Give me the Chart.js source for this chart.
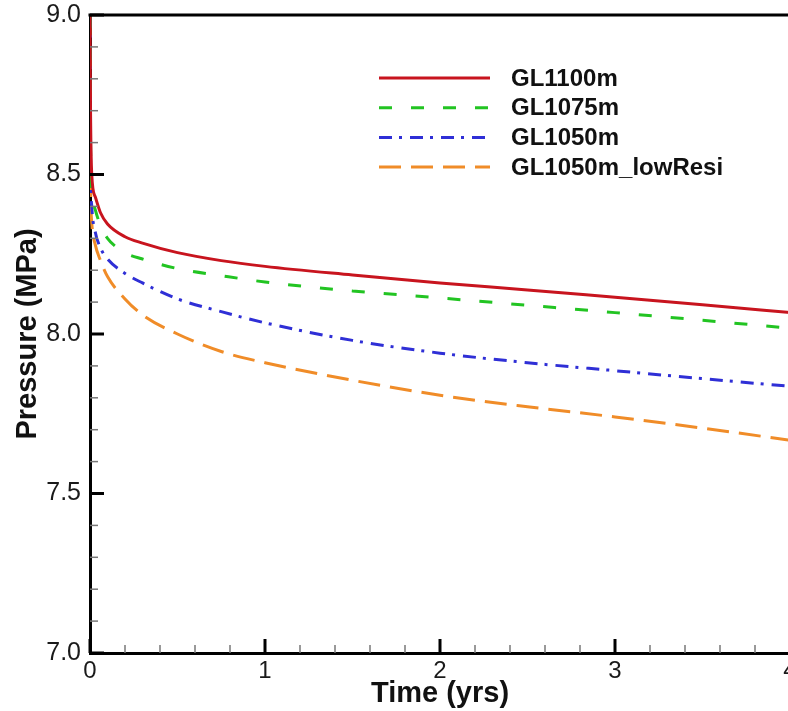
<!DOCTYPE html>
<html>
<head>
<meta charset="utf-8">
<script src="https://cdn.jsdelivr.net/npm/chart.js@4.4.1/dist/chart.umd.min.js"></script>
<style>
  html, body { margin: 0; padding: 0; background: #fff; overflow: hidden; }
  #wrap { width: 788px; height: 711px; overflow: hidden; }
</style>
</head>
<body>
<div id="wrap"><canvas id="pressureChart" width="812" height="711"></canvas></div>
<script>
// time in years
var times = [0, 0.003, 0.01, 0.03, 0.06, 0.1, 0.2, 0.3, 0.5, 0.75, 1, 1.5, 2, 2.5, 3, 3.5, 4];

// pressure in MPa
var gl1100 = [9.0, 8.70, 8.50, 8.43, 8.38, 8.345, 8.305, 8.285, 8.255, 8.23, 8.212, 8.185, 8.160, 8.138, 8.115, 8.092, 8.067];
var gl1075 = [9.0, 8.60, 8.45, 8.39, 8.34, 8.300, 8.255, 8.235, 8.205, 8.183, 8.163, 8.135, 8.113, 8.090, 8.067, 8.043, 8.018];
var gl1050 = [9.0, 8.55, 8.40, 8.32, 8.27, 8.235, 8.190, 8.160, 8.110, 8.070, 8.035, 7.980, 7.940, 7.910, 7.885, 7.860, 7.836];
var gl1050Low = [9.0, 8.50, 8.35, 8.28, 8.23, 8.180, 8.110, 8.060, 8.000, 7.945, 7.910, 7.855, 7.808, 7.772, 7.740, 7.705, 7.667];

var seriesNames = ["GL1100m", "GL1075m", "GL1050m", "GL1050m_lowResi"];
var xTicks = [0, 1, 2, 3, 4];
var yTicks = [7.0, 7.5, 8.0, 8.5, 9.0];

function toPoints(ys) {
    return times.map((t, i) => ({ x: t, y: ys[i] }));
}

var styles = [
    { color: "#c8141e", dash: [] },
    { color: "#22c422", dash: [13, 19] },
    { color: "#2f2fd6", dash: [13, 7, 3, 8] },
    { color: "#f08c28", dash: [22, 10] }
];

var allSeries = [gl1100, gl1075, gl1050, gl1050Low];

var datasets = allSeries.map((ys, i) => ({
    label: seriesNames[i],
    data: toPoints(ys),
    borderColor: styles[i].color,
    borderDash: styles[i].dash,
    borderWidth: 3,
    pointRadius: 0,
    tension: 0.35,
    cubicInterpolationMode: "monotone",
    fill: false
}));

// inward ticks, box frame and legend
var framePlugin = {
    id: "frame",
    afterDraw: function (chart) {
        var ctx = chart.ctx;
        var area = chart.chartArea;
        var xs = chart.scales.x;
        var ys = chart.scales.y;
        ctx.save();
        ctx.strokeStyle = "#000";

        // minor / major ticks on x
        for (var v = 0; v <= 4.0001; v += 0.2) {
            var px = xs.getPixelForValue(v);
            var major = Math.abs(v - Math.round(v)) < 1e-6;
            ctx.lineWidth = major ? 3 : 1.5;
            ctx.strokeStyle = major ? "#000" : "#777";
            ctx.beginPath();
            ctx.moveTo(px, area.bottom);
            ctx.lineTo(px, area.bottom - (major ? 14 : 8));
            ctx.stroke();
        }
        // minor / major ticks on y
        for (var w = 7.0; w <= 9.0001; w += 0.1) {
            var py = ys.getPixelForValue(w);
            var majorY = Math.abs(w * 2 - Math.round(w * 2)) < 1e-6;
            ctx.lineWidth = majorY ? 3 : 1.5;
            ctx.strokeStyle = majorY ? "#000" : "#777";
            ctx.beginPath();
            ctx.moveTo(area.left, py);
            ctx.lineTo(area.left + (majorY ? 14 : 8), py);
            ctx.stroke();
        }

        // top and right frame
        ctx.strokeStyle = "#000";
        ctx.lineWidth = 3;
        ctx.beginPath();
        ctx.moveTo(area.left - 1.5, area.top);
        ctx.lineTo(area.right, area.top);
        ctx.lineTo(area.right, area.bottom);
        ctx.stroke();

        // legend
        var lx0 = 379, lx1 = 490, ly = 78, step = 29.7;
        chart.data.datasets.forEach(function (ds, i) {
            var y = ly + i * step;
            ctx.lineWidth = 3;
            ctx.strokeStyle = ds.borderColor;
            ctx.setLineDash(ds.borderDash);
            ctx.beginPath();
            ctx.moveTo(lx0, y);
            ctx.lineTo(lx1, y);
            ctx.stroke();
            ctx.setLineDash([]);
            ctx.fillStyle = "#111";
            ctx.font = "bold 24px 'Liberation Sans', Arial, sans-serif";
            ctx.textBaseline = "middle";
            ctx.textAlign = "left";
            ctx.fillText(ds.label, 511, y + 1);
        });
        ctx.restore();
    }
};

var ctx = document.getElementById("pressureChart").getContext("2d");
new Chart(ctx, {
    type: "line",
    data: { datasets: datasets },
    options: {
        responsive: false,
        animation: false,
        layout: {
            autoPadding: false,
            padding: { top: 15, right: 22, left: 0, bottom: 0 }
        },
        plugins: {
            legend: { display: false },
            tooltip: { enabled: false }
        },
        scales: {
            x: {
                type: "linear",
                min: 0,
                max: 4,
                afterFit: function (s) {
                    s.height = 58;
                    s.paddingLeft = 0;
                    s.paddingRight = 0;
                },
                afterBuildTicks: function (s) { s.ticks = xTicks.map(v => ({ value: v })); },
                grid: { display: false, drawTicks: false },
                border: { display: true, color: "#000", width: 3 },
                ticks: {
                    padding: 4,
                    color: "#1a1a1a",
                    font: { family: "'Liberation Sans', Arial, sans-serif", size: 24 },
                    maxRotation: 0,
                    callback: v => String(v)
                },
                title: {
                    display: true,
                    text: "Time (yrs)",
                    color: "#111",
                    padding: { top: 0, bottom: 0 },
                    font: { family: "'Liberation Sans', Arial, sans-serif", size: 29, weight: "bold" }
                }
            },
            y: {
                type: "linear",
                min: 7,
                max: 9,
                afterFit: function (s) {
                    s.width = 90;
                    s.paddingTop = 0;
                    s.paddingBottom = 0;
                },
                afterBuildTicks: function (s) { s.ticks = yTicks.map(v => ({ value: v })); },
                grid: { display: false, drawTicks: false },
                border: { display: true, color: "#000", width: 3 },
                ticks: {
                    padding: 9,
                    color: "#1a1a1a",
                    font: { family: "'Liberation Sans', Arial, sans-serif", size: 25 },
                    callback: v => v.toFixed(1)
                },
                title: {
                    display: true,
                    text: "Pressure (MPa)",
                    color: "#111",
                    padding: { top: 11, bottom: 0 },
                    font: { family: "'Liberation Sans', Arial, sans-serif", size: 29, weight: "bold" }
                }
            }
        }
    },
    plugins: [framePlugin]
});
</script>
</body>
</html>
